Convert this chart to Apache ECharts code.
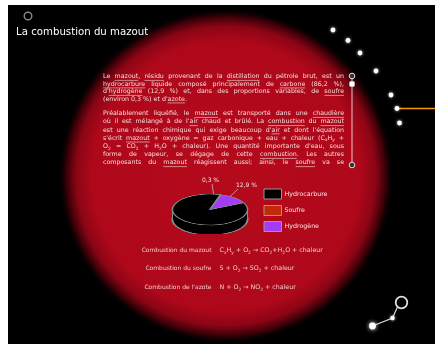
<!DOCTYPE html>
<html><head><meta charset="utf-8">
<script src="https://cdn.jsdelivr.net/npm/echarts@6/dist/echarts.min.js"></script>
<style>
html,body{margin:0;padding:0;background:#fff;overflow:hidden;width:435px;height:344px}
#main{position:absolute;left:0;top:0;width:435px;height:344px}
#pie{position:absolute;left:160px;top:193px;width:100px;height:100px;transform-origin:0 0;transform:scale(1,0.4133)}
</style></head><body>
<div id="main"></div><div id="pie"></div>
<script>
// ---------- data ----------
const chartTitle = 'La combustion du mazout';
const categories = ['Hydrocarbure', 'Soufre', 'Hydrogène'];
const shares = [86.2, 0.3, 12.9];
const sliceColors = ['#000000', '#c02a08', '#a23cf5'];
const paragraph1 = [
  'Le _mazout_, _résidu_ provenant de la _distillation_ du pétrole brut, est un',
  '_hydrocarbure_ liquide composé principalement de _carbone_ (86,2 %),',
  "d'_hydrogène_ (12,9 %) et, dans des proportions variables, de _soufre_",
  "(environ 0,3 %) et d'_azote_."
];
const paragraph2 = [
  'Préalablement liquéfié, le _mazout_ est transporté dans une _chaudière_',
  "où il est mélangé à de l'_air_ chaud et brûlé. La _combustion_ du _mazout_",
  "est une réaction chimique qui exige beaucoup d'_air_ et dont l'équation",
  "s'écrit _mazout_ + oxygène = gaz carbonique + eau + chaleur (C[x]H[y] +",
  "O[2] = CO[2] + H[2]O + chaleur). Une quantité importante d'eau, sous",
  'forme de vapeur, se dégage de cette _combustion_. Les autres',
  'composants du _mazout_ réagissent aussi; ainsi, le _soufre_ va se'
];
const equationNames = ['Combustion du mazout', 'Combustion du soufre', "Combustion de l'azote"];
const equations = [
  'C[x]H[y] + O[2] → CO[2]+H[2]O + chaleur',
  'S + O[2] → SO[2] + chaleur',
  'N + O[2] → NO[2] + chaleur'
];

// ---------- helpers ----------
const FONT = '"DejaVu Sans", Verdana, sans-serif';
const mctx = document.createElement('canvas').getContext('2d');
function measure(t, size) { mctx.font = size + 'px ' + FONT; return mctx.measureText(t).width; }
function parse(str) {
  const segs = []; let u = false, sub = false, buf = '';
  const push = () => { if (buf) { segs.push({ t: buf, u, sub }); buf = ''; } };
  for (const ch of str) {
    if (ch === '_') { push(); u = !u; }
    else if (ch === '[') { push(); sub = true; }
    else if (ch === ']') { push(); sub = false; }
    else buf += ch;
  }
  push(); return segs;
}
function segsWidth(segs, size) { return segs.reduce((a, s) => a + measure(s.t, s.sub ? size * 0.7 : size), 0); }
function drawSegs(segs, x, y, size, color, out) {
  for (const s of segs) {
    const fs = s.sub ? size * 0.7 : size;
    const w = measure(s.t, fs);
    out.push({ type: 'text', x: x, y: y + (s.sub ? size * 0.35 : 0), z: 10,
      style: { text: s.t, font: fs + 'px ' + FONT, fill: color, textVerticalAlign: 'middle', verticalAlign: 'middle' } });
    if (s.u) out.push({ type: 'line', z: 10, shape: { x1: x, y1: y + size * 0.62, x2: x + w, y2: y + size * 0.62 },
      style: { stroke: color, lineWidth: 0.6 } });
    x += w;
  }
  return x;
}
function drawParagraph(lines, x0, x1, y0, step, size, color, out, lastLeft) {
  lines.forEach((line, i) => {
    const y = y0 + i * step;
    const toks = line.split(' ').map(parse);
    const widths = toks.map(t => segsWidth(t, size));
    const sum = widths.reduce((a, b) => a + b, 0);
    const last = lastLeft && i === lines.length - 1;
    const gap = (!last && toks.length > 1) ? (x1 - x0 - sum) / (toks.length - 1) : measure(' ', size);
    let x = x0;
    toks.forEach((t, k) => { drawSegs(t, x, y, size, color, out); x += widths[k] + gap; });
  });
}

// ---------- main (decor, texts, legend) ----------
const main = echarts.init(document.getElementById('main'));
const g = [];
g.push({ type: 'rect', z: 0, shape: { x: 8, y: 5, width: 427, height: 339 }, style: { fill: '#000' } });
g.push({ type: 'circle', z: 1, shape: { cx: 226, cy: 176, r: 168 },
  style: { fill: new echarts.graphic.RadialGradient(0.5, 0.5, 0.5, [
    { offset: 0, color: '#b50a1c' }, { offset: 0.8, color: '#ae081a' },
    { offset: 0.89, color: '#8c0515' }, { offset: 0.95, color: '#3a0008' }, { offset: 1, color: 'rgba(0,0,0,0)' }]) } });
// title + ring
g.push({ type: 'circle', z: 5, shape: { cx: 28, cy: 16, r: 3.8 }, style: { fill: 'none', stroke: '#8a8a8a', lineWidth: 1.4 } });
g.push({ type: 'text', x: 16, y: 32.5, z: 5, style: { text: chartTitle, font: '10.2px ' + FONT, fill: '#fff', textVerticalAlign: 'middle', verticalAlign: 'middle' } });
// right dots + orange line
g.push({ type: 'line', z: 4, shape: { x1: 397, y1: 108.5, x2: 435, y2: 108.5 }, style: { stroke: '#f39a00', lineWidth: 1.6 } });
[[333, 30], [348, 40.5], [360, 53], [376, 71], [391, 95], [397, 108.5], [399.5, 123]].forEach(p => {
  g.push({ type: 'circle', z: 5, shape: { cx: p[0], cy: p[1], r: 2.4 }, style: { fill: '#fff', shadowBlur: 3, shadowColor: 'rgba(255,255,255,0.8)' } });
});
// scrollbar
g.push({ type: 'line', z: 5, shape: { x1: 352, y1: 76, x2: 352, y2: 165 }, style: { stroke: '#e8c8c8', lineWidth: 1 } });
g.push({ type: 'circle', z: 6, shape: { cx: 352, cy: 76, r: 2.8 }, style: { fill: '#333', stroke: '#ddd', lineWidth: 1 } });
g.push({ type: 'rect', z: 6, shape: { x: 349.5, y: 81.5, width: 5, height: 5, r: 1 }, style: { fill: '#fff', stroke: '#ccc', lineWidth: 0.6 } });
g.push({ type: 'circle', z: 6, shape: { cx: 352, cy: 165, r: 2.8 }, style: { fill: '#333', stroke: '#ddd', lineWidth: 1 } });
// bottom-right ornament
g.push({ type: 'polyline', z: 5, shape: { points: [[372.5, 326], [392.5, 318], [397.5, 307]] }, style: { stroke: '#ddd', lineWidth: 1.2, fill: 'none' } });
g.push({ type: 'circle', z: 6, shape: { cx: 401.5, cy: 302.5, r: 5.8 }, style: { fill: 'none', stroke: '#e0e0e0', lineWidth: 1.8 } });
g.push({ type: 'circle', z: 6, shape: { cx: 392.5, cy: 318, r: 2.2 }, style: { fill: '#fff', shadowBlur: 3, shadowColor: '#fff' } });
g.push({ type: 'circle', z: 6, shape: { cx: 372.5, cy: 326, r: 3.4 }, style: { fill: '#fff', shadowBlur: 4, shadowColor: '#fff' } });
// paragraphs
const TXT = '#f4dcdc';
drawParagraph(paragraph1, 103, 344, 76.5, 7.5, 6.3, TXT, g, true);
drawParagraph(paragraph2, 103, 344, 113.5, 8.2, 6.3, TXT, g, false);
// legend
const legendY = [194, 210.5, 226.5];
categories.forEach((c, i) => {
  g.push({ type: 'rect', z: 8, shape: { x: 264, y: legendY[i] - 5, width: 17.5, height: 10 }, style: { fill: sliceColors[i], stroke: '#9a9a9a', lineWidth: 1 } });
  g.push({ type: 'text', z: 8, x: 284.5, y: legendY[i], style: { text: c, font: '6.3px ' + FONT, fill: '#f4e4e4', textVerticalAlign: 'middle', verticalAlign: 'middle' } });
});
// pie value labels
const fmt = v => v.toFixed(1).replace('.', ',') + ' %';
const labelPos = [[199.5, 211.5], [210.5, 180], [246.5, 185]];
shares.forEach((v, i) => {
  g.push({ type: 'text', z: 12, x: labelPos[i][0], y: labelPos[i][1], style: { text: fmt(v), font: '6px ' + FONT, fill: '#f4e4e4', textAlign: 'center', align: 'center', textVerticalAlign: 'middle', verticalAlign: 'middle' } });
});
g.push({ type: 'line', z: 12, shape: { x1: 212, y1: 184, x2: 214, y2: 197 }, style: { stroke: '#ccc', lineWidth: 0.7 } });
g.push({ type: 'line', z: 12, shape: { x1: 238, y1: 189, x2: 229, y2: 197.5 }, style: { stroke: '#ccc', lineWidth: 0.7 } });
// equations
const eqY = [250.5, 268.5, 287.5];
const EQC = '#eecccc';
equationNames.forEach((n, i) => {
  g.push({ type: 'text', z: 8, x: 211.5, y: eqY[i], style: { text: n, font: '6px ' + FONT, fill: EQC, textAlign: 'right', align: 'right', textVerticalAlign: 'middle', verticalAlign: 'middle' } });
  let x = 219.5;
  equations[i].split(' ').forEach(tok => {
    x = drawSegs(parse(tok), x, eqY[i], 6.3, EQC, g);
    x += measure(' ', 6.3);
  });
});
main.setOption({ animation: false, graphic: { elements: g } });

// ---------- pie (3D-looking, squashed by CSS) ----------
const pie = echarts.init(document.getElementById('pie'));
const pieData = categories.map((c, i) => ({ name: c, value: shares[i], itemStyle: { color: sliceColors[i] } }));
pie.setOption({
  animation: false,
  graphic: { elements: [
    { type: 'rect', z: 1.5, shape: { x: 12.5, y: 40, width: 75, height: 24 }, style: { fill: '#000' } },
    { type: 'line', z: 1.6, shape: { x1: 12.5, y1: 40, x2: 12.5, y2: 64 }, style: { stroke: '#8a8a8a', lineWidth: 1 } },
    { type: 'line', z: 1.6, shape: { x1: 87.5, y1: 40, x2: 87.5, y2: 64 }, style: { stroke: '#8a8a8a', lineWidth: 1 } }
  ] },
  series: [
    { type: 'pie', z: 1, center: [50, 64], radius: 37.5, startAngle: 26, silent: true, label: { show: false }, labelLine: { show: false },
      data: categories.map((c, i) => ({ name: c, value: shares[i] })), itemStyle: { color: '#000', borderColor: '#8a8a8a', borderWidth: 2 } },
    { type: 'pie', z: 3, center: [50, 40], radius: 37.5, startAngle: 26, silent: true, label: { show: false }, labelLine: { show: false },
      data: pieData, itemStyle: { borderColor: '#8a8a8a', borderWidth: 1.5 } }
  ]
});
</script>
</body></html>
